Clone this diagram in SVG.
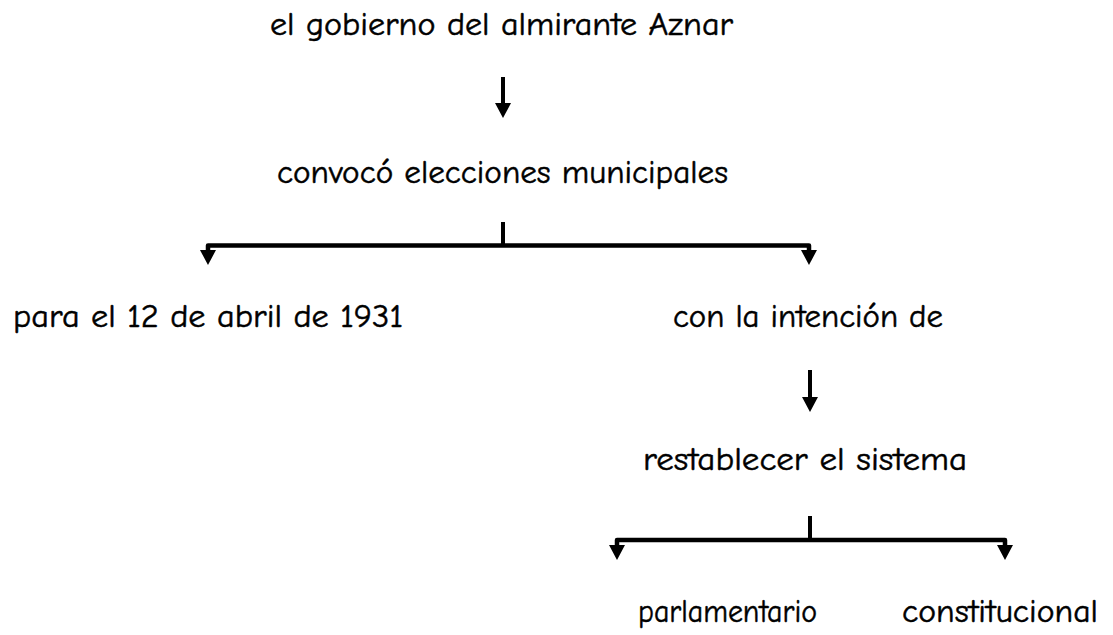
<svg xmlns="http://www.w3.org/2000/svg" width="1113" height="635" viewBox="0 0 1113 635">
<style>
text{font-family:"Comic Sans MS","Comic Neue",Lato,"DejaVu Sans",sans-serif;font-size:32px;fill:#000;stroke:#000;stroke-width:0.5}
.ln{stroke:#000;stroke-width:4.5;fill:none;stroke-linejoin:round}
.st{stroke:#000;stroke-width:4;fill:none}
.hd{fill:#000}
</style>
<rect width="1113" height="635" fill="#fff"/>
<g id="n1"><text x="270" y="35" textLength="463" lengthAdjust="spacingAndGlyphs">el gobierno del almirante Aznar</text></g>
<g id="n2"><text x="277" y="183" textLength="451" lengthAdjust="spacingAndGlyphs">convocó elecciones municipales</text></g>
<g id="n3"><text x="13" y="327" textLength="390" lengthAdjust="spacingAndGlyphs">para el 12 de abril de 1931</text></g>
<g id="n4"><text x="673" y="327" textLength="270" lengthAdjust="spacingAndGlyphs">con la intención de</text></g>
<g id="n5"><text x="643" y="470" textLength="324" lengthAdjust="spacingAndGlyphs">restablecer el sistema</text></g>
<g id="n6"><text x="638" y="622" textLength="179" lengthAdjust="spacingAndGlyphs">parlamentario</text></g>
<g id="n7"><text x="902" y="622" textLength="196" lengthAdjust="spacingAndGlyphs">constitucional</text></g>
<g id="connectors">
<line class="st" x1="503" y1="77" x2="503" y2="104"/>
<polygon class="hd" points="495,103 511,103 503,118"/>
<line class="st" x1="503" y1="222" x2="503" y2="245"/>
<polyline class="ln" points="208,252 208,245.5 809,245.5 809,252"/>
<polygon class="hd" points="200,250 216,250 208,265"/>
<polygon class="hd" points="801,250 817,250 809,265"/>
<line class="st" x1="810" y1="370" x2="810" y2="398"/>
<polygon class="hd" points="802,397 818,397 810,412"/>
<line class="st" x1="810" y1="516" x2="810" y2="540"/>
<polyline class="ln" points="617,547 617,540 1005,540 1005,547"/>
<polygon class="hd" points="609,545 625,545 617,560"/>
<polygon class="hd" points="997,545 1013,545 1005,560"/>
</g>
</svg>
